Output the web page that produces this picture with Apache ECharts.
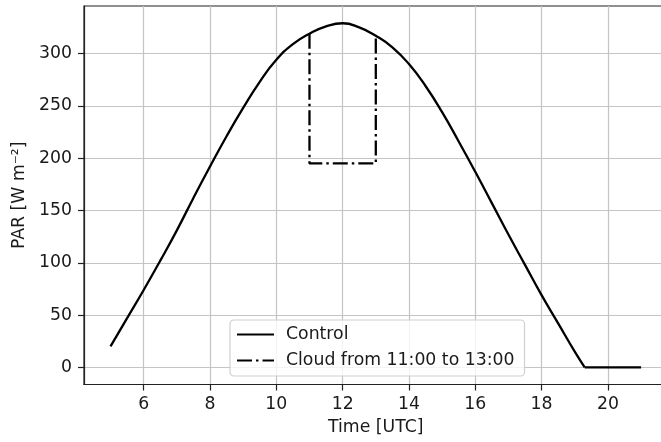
<!DOCTYPE html>
<html><head><meta charset="utf-8">
<script src="https://cdn.jsdelivr.net/npm/echarts@6/dist/echarts.min.js"></script>
<style>html,body{margin:0;padding:0;background:#fff}#c{width:661px;height:442px}</style>
</head><body><div id="c"></div>
<script>
// Time of day [UTC]
const timeHours = [5.0, 5.5, 6.0, 6.5, 7.0, 7.5, 8.0, 8.5, 9.0, 9.5, 10.0, 10.5, 11.0, 11.5, 12.0,
  12.5, 13.0, 13.5, 14.0, 14.5, 15.0, 15.5, 16.0, 16.5, 17.0, 17.5, 18.0, 18.5, 19.0, 19.3, 19.5, 20.0, 20.5, 21.0];
// Control PAR [W m-2]
const controlPAR = [20, 47, 74, 102, 131, 162, 192, 221, 248, 273, 294, 309, 319, 326, 329,
  325, 317, 306, 290, 269, 244, 216, 187, 157, 127, 98, 69, 42, 15, 0, 0, 0, 0, 0];
// Cloud scenario (cloud from 11:00 to 13:00)
const cloudTime = [5.0, 5.5, 6.0, 6.5, 7.0, 7.5, 8.0, 8.5, 9.0, 9.5, 10.0, 10.5, 11.0, 11.0, 11.5, 12.0,
  12.5, 13.0, 13.0, 13.5, 14.0, 14.5, 15.0, 15.5, 16.0, 16.5, 17.0, 17.5, 18.0, 18.5, 19.0, 19.3, 19.5, 20.0, 20.5, 21.0];
const cloudPAR = [20, 47, 74, 102, 131, 162, 192, 221, 248, 273, 294, 309, 319, 195, 195, 195,
  195, 195, 317, 306, 290, 269, 244, 216, 187, 157, 127, 98, 69, 42, 15, 0, 0, 0, 0, 0];
const xTicks = [6, 8, 10, 12, 14, 16, 18, 20];
const yTicks = [0, 50, 100, 150, 200, 250, 300];
const seriesNames = ['Control', 'Cloud from 11:00 to 13:00'];
const xTitle = 'Time [UTC]';
const yTitle = 'PAR [W m\u207B\u00B2]';

const FONT = 'DejaVu Sans';
const FS = 17.3;

const pairs = (xs, ys) => xs.map((x, i) => [x, ys[i]]);
const controlPts = pairs(timeHours, controlPAR);
const nightStart = controlPAR.findIndex((v, i) => i > 0 && v === 0);
const dayPart = controlPts.slice(0, nightStart + 1);
const nightPart = controlPts.slice(nightStart);

// Where the cloud run equals the control run its dash-dot line lies hidden under
// the solid line; draw it only where it departs (plus the tops of the jumps).
const controlAt = t => controlPAR[timeHours.indexOf(t)];
const differs = i => i >= 0 && i < cloudTime.length && controlAt(cloudTime[i]) !== cloudPAR[i];
const jumpTop = i => (differs(i - 1) && cloudTime[i - 1] === cloudTime[i]) ||
                     (differs(i + 1) && cloudTime[i + 1] === cloudTime[i]);
const cloudPts = pairs(cloudTime, cloudPAR).map((p, i) =>
  (differs(i) || jumpTop(i)) ? p : [p[0], null]);

const lineBlack = {color: '#000', width: 2.3};
const chart = echarts.init(document.getElementById('c'), null, {renderer: 'canvas'});
chart.setOption({
  animation: false,
  backgroundColor: '#fff',
  textStyle: {fontFamily: FONT},
  grid: {left: 84, top: 6, width: 583.6, height: 378.5, outerBoundsMode: 'none', containLabel: false,
    show: true, borderColor: '#222', borderWidth: 1.2, backgroundColor: 'transparent'},
  legend: {
    orient: 'vertical', left: 230, top: 320,
    padding: [6, 10, 7, 6], itemGap: 9, itemWidth: 37, itemHeight: 17,
    backgroundColor: 'rgba(255,255,255,0.8)', borderColor: '#d0d0d0', borderWidth: 1.2, borderRadius: 4,
    itemStyle: {opacity: 0},
    textStyle: {fontFamily: FONT, fontSize: FS, color: '#1a1a1a', padding: [0, 0, 0, 7]},
    data: seriesNames
  },
  xAxis: {
    type: 'value', min: 4.2, max: 21.8,
    name: xTitle, nameLocation: 'middle', nameGap: 35,
    nameTextStyle: {fontFamily: FONT, fontSize: FS, color: '#1a1a1a'},
    axisLine: {show: true, onZero: false, lineStyle: {color: '#222', width: 1.2}},
    axisTick: {show: true, customValues: xTicks, length: 6, lineStyle: {color: '#222', width: 1.2}},
    axisLabel: {customValues: xTicks, margin: 12, fontFamily: FONT, fontSize: FS, color: '#1a1a1a'},
    splitLine: {show: true, lineStyle: {color: '#c4c4c4', width: 1.2}}
  },
  yAxis: {
    type: 'value', min: -16.4, max: 345.5,
    name: yTitle, nameLocation: 'middle', nameGap: 50, nameRotate: 90,
    nameTextStyle: {fontFamily: FONT, fontSize: FS, color: '#1a1a1a'},
    axisLine: {show: true, onZero: false, lineStyle: {color: '#222', width: 1.2}},
    axisTick: {show: true, customValues: yTicks, length: 6, lineStyle: {color: '#222', width: 1.2}},
    axisLabel: {customValues: yTicks, margin: 12, fontFamily: FONT, fontSize: FS, color: '#1a1a1a'},
    splitLine: {show: true, lineStyle: {color: '#c4c4c4', width: 1.2}}
  },
  series: [
    {
      name: seriesNames[0], type: 'line', data: dayPart,
      smooth: 0.5, symbol: 'none', z: 4,
      lineStyle: lineBlack, itemStyle: {color: '#000'}
    },
    {
      name: 'Control night', type: 'line', data: nightPart,
      smooth: false, symbol: 'none', z: 4,
      lineStyle: lineBlack, itemStyle: {color: '#000'}
    },
    {
      name: seriesNames[1], type: 'line', data: cloudPts,
      smooth: false, connectNulls: false, symbol: 'none', z: 5,
      lineStyle: {color: '#000', width: 2.3, type: [15, 4, 2.5, 4]}, itemStyle: {color: '#000'}
    }
  ]
});
</script></body></html>
